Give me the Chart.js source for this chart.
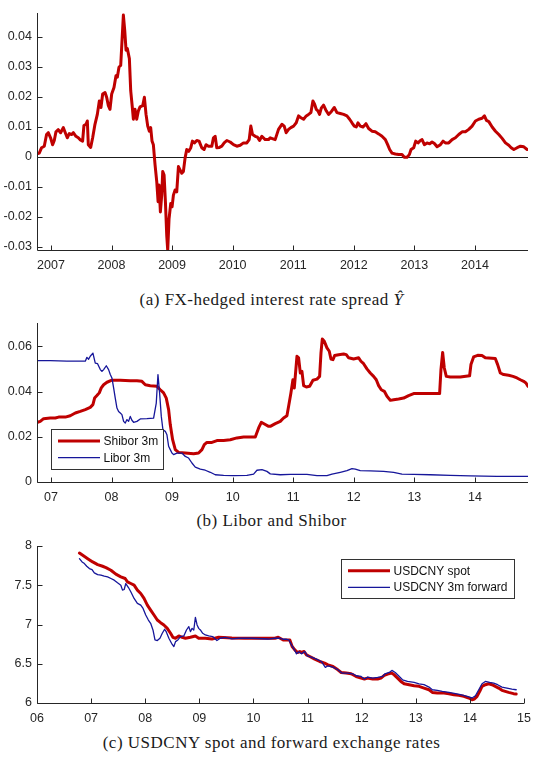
<!DOCTYPE html>
<html><head><meta charset="utf-8">
<script src="https://cdn.jsdelivr.net/npm/chart.js@4/dist/chart.umd.min.js"></script>
<style>
html,body{margin:0;padding:0;background:#fff}
body{width:539px;height:760px;position:relative;overflow:hidden}
canvas{position:absolute;left:0}
.cap{position:absolute;left:2px;width:539px;text-align:center;font-family:"Liberation Serif","Times New Roman",serif;font-size:17px;line-height:16px;letter-spacing:0.5px;color:#1a1a1a;white-space:nowrap}
</style></head><body>
<canvas id="ca" width="539" height="280" style="top:0px"></canvas>
<div class="cap" style="top:292px">(a) FX-hedged interest rate spread <i>Ŷ</i></div>
<canvas id="cb" width="539" height="210" style="top:300px"></canvas>
<div class="cap" style="top:513px">(b) Libor and Shibor</div>
<canvas id="cc" width="539" height="200" style="top:525px"></canvas>
<div class="cap" style="top:735px">(c) USDCNY spot and forward exchange rates</div>
<script>
// ---------- Panel (a): FX-hedged interest rate spread ----------
const spreadYears = [
 2006.774,2006.807,2006.846,2006.890,2006.928,2006.956,2006.994,2007.028,2007.055,2007.083,
 2007.121,2007.160,2007.204,2007.237,2007.270,2007.303,2007.342,2007.369,2007.413,2007.452,
 2007.479,2007.523,2007.545,2007.579,2007.601,2007.617,2007.656,2007.689,2007.727,2007.766,
 2007.799,2007.826,2007.854,2007.893,2007.920,2007.948,2007.975,2008.003,2008.041,2008.074,
 2008.096,2008.124,2008.152,2008.174,2008.196,2008.218,2008.240,2008.262,2008.295,2008.317,
 2008.344,2008.361,2008.388,2008.416,2008.444,2008.471,2008.515,2008.543,2008.570,2008.598,
 2008.625,2008.647,2008.669,2008.691,2008.719,2008.747,2008.769,2008.785,2008.807,2008.829,
 2008.846,2008.868,2008.890,2008.912,2008.928,2008.950,2008.978,2009.000,2009.022,2009.050,
 2009.077,2009.105,2009.132,2009.160,2009.187,2009.215,2009.242,2009.275,2009.309,2009.336,
 2009.369,2009.408,2009.446,2009.490,2009.529,2009.562,2009.601,2009.656,2009.683,2009.711,
 2009.738,2009.782,2009.821,2009.860,2009.904,2009.959,2010.014,2010.069,2010.124,2010.179,
 2010.234,2010.273,2010.300,2010.328,2010.372,2010.410,2010.444,2010.482,2010.537,2010.592,
 2010.620,2010.702,2010.757,2010.813,2010.851,2010.884,2010.923,2010.961,2011.006,2011.050,
 2011.088,2011.127,2011.171,2011.215,2011.253,2011.292,2011.325,2011.353,2011.380,2011.408,
 2011.435,2011.463,2011.501,2011.545,2011.584,2011.628,2011.678,2011.722,2011.777,2011.832,
 2011.887,2011.931,2011.970,2012.008,2012.041,2012.069,2012.107,2012.152,2012.201,2012.245,
 2012.300,2012.355,2012.410,2012.466,2012.521,2012.559,2012.592,2012.631,2012.686,2012.741,
 2012.796,2012.835,2012.879,2012.917,2012.945,2012.989,2013.022,2013.061,2013.099,2013.127,
 2013.165,2013.209,2013.253,2013.292,2013.331,2013.375,2013.430,2013.474,2013.512,2013.567,
 2013.623,2013.678,2013.733,2013.788,2013.843,2013.898,2013.953,2014.008,2014.063,2014.118,
 2014.157,2014.190,2014.229,2014.284,2014.339,2014.394,2014.449,2014.504,2014.559,2014.598,
 2014.642,2014.697,2014.752,2014.807,2014.862];
const spreadValues = [
 0.0010,0.0012,0.0030,0.0035,0.0074,0.0080,0.0063,0.0040,0.0054,0.0083,
 0.0090,0.0080,0.0097,0.0080,0.0063,0.0077,0.0074,0.0080,0.0068,0.0063,
 0.0057,0.0052,0.0104,0.0108,0.0119,0.0040,0.0031,0.0063,0.0108,0.0141,
 0.0186,0.0164,0.0209,0.0214,0.0198,0.0170,0.0158,0.0209,0.0231,0.0270,
 0.0265,0.0299,0.0304,0.0388,0.0472,0.0422,0.0355,0.0360,0.0327,0.0220,
 0.0164,0.0125,0.0158,0.0125,0.0153,0.0166,0.0170,0.0198,0.0141,0.0102,
 0.0085,0.0097,0.0052,0.0040,-0.0027,-0.0083,-0.0150,-0.0094,-0.0184,-0.0128,
 -0.0049,-0.0061,-0.0150,-0.0263,-0.0311,-0.0207,-0.0156,-0.0167,-0.0128,-0.0111,
 -0.0117,-0.0033,-0.0044,-0.0055,-0.0049,-0.0004,0.0024,0.0018,0.0030,0.0052,
 0.0046,0.0054,0.0052,0.0030,0.0024,0.0040,0.0035,0.0035,0.0063,0.0068,
 0.0030,0.0031,0.0035,0.0046,0.0054,0.0049,0.0040,0.0035,0.0038,0.0046,
 0.0046,0.0057,0.0102,0.0074,0.0068,0.0065,0.0054,0.0068,0.0057,0.0057,
 0.0063,0.0057,0.0091,0.0108,0.0102,0.0080,0.0091,0.0097,0.0102,0.0113,
 0.0136,0.0130,0.0125,0.0136,0.0141,0.0147,0.0186,0.0175,0.0158,0.0153,
 0.0141,0.0162,0.0172,0.0153,0.0141,0.0150,0.0164,0.0147,0.0144,0.0141,
 0.0136,0.0125,0.0113,0.0102,0.0099,0.0113,0.0102,0.0099,0.0110,0.0094,
 0.0085,0.0083,0.0076,0.0068,0.0057,0.0040,0.0024,0.0012,0.0009,0.0007,
 0.0007,-0.0002,-0.0002,0.0007,0.0024,0.0030,0.0052,0.0046,0.0054,0.0057,
 0.0040,0.0046,0.0043,0.0049,0.0044,0.0033,0.0040,0.0052,0.0046,0.0046,
 0.0057,0.0063,0.0074,0.0083,0.0083,0.0091,0.0102,0.0119,0.0125,0.0128,
 0.0136,0.0121,0.0117,0.0099,0.0085,0.0074,0.0061,0.0046,0.0038,0.0030,
 0.0024,0.0030,0.0035,0.0033,0.0024];
const spreadTickYears = [2007,2008,2009,2010,2011,2012,2013,2014];
const spreadTickLabels = ['2007','2008','2009','2010','2011','2012','2013','2014'];
const spreadYTicks = [-0.03,-0.02,-0.01,0,0.01,0.02,0.03,0.04];
const spreadYLabels = ['-0.03','-0.02','-0.01','0','0.01','0.02','0.03','0.04'];

// ---------- Panel (b): Libor and Shibor ----------
const shiborYears = [
 2006.780,2006.824,2006.879,2006.989,2007.072,2007.127,2007.182,2007.237,2007.319,2007.402,
 2007.484,2007.567,2007.649,2007.693,2007.721,2007.759,2007.798,2007.831,2007.870,2007.925,
 2008.007,2008.145,2008.310,2008.420,2008.502,2008.558,2008.640,2008.750,2008.805,2008.860,
 2008.904,2008.943,2008.970,2009.009,2009.053,2009.108,2009.218,2009.356,2009.438,2009.493,
 2009.532,2009.575,2009.658,2009.741,2009.851,2009.961,2010.071,2010.181,2010.374,2010.429,
 2010.473,2010.539,2010.594,2010.621,2010.704,2010.786,2010.841,2010.896,2010.924,2010.962,
 2010.995,2011.018,2011.062,2011.089,2011.117,2011.144,2011.172,2011.216,2011.271,2011.326,
 2011.392,2011.436,2011.458,2011.480,2011.513,2011.557,2011.595,2011.623,2011.656,2011.684,
 2011.750,2011.832,2011.876,2011.915,2011.997,2012.080,2012.118,2012.162,2012.217,2012.272,
 2012.327,2012.371,2012.410,2012.454,2012.504,2012.548,2012.603,2012.658,2012.740,2012.823,
 2012.905,2012.988,2013.098,2013.263,2013.417,2013.439,2013.467,2013.494,2013.527,2013.593,
 2013.758,2013.912,2013.934,2013.978,2014.045,2014.116,2014.171,2014.336,2014.375,2014.419,
 2014.474,2014.556,2014.628,2014.694,2014.749,2014.804,2014.842,2014.875];
const shiborValues = [
 0.0264,0.0268,0.0280,0.0283,0.0283,0.0287,0.0287,0.0287,0.0293,0.0305,
 0.0312,0.0320,0.0330,0.0342,0.0371,0.0382,0.0394,0.0416,0.0430,0.0441,
 0.0450,0.0450,0.0448,0.0448,0.0445,0.0430,0.0426,0.0423,0.0408,0.0394,
 0.0371,0.0320,0.0254,0.0187,0.0143,0.0131,0.0128,0.0125,0.0128,0.0143,
 0.0165,0.0175,0.0175,0.0183,0.0184,0.0187,0.0195,0.0199,0.0199,0.0239,
 0.0264,0.0254,0.0246,0.0246,0.0258,0.0268,0.0283,0.0293,0.0335,0.0394,
 0.0452,0.0416,0.0556,0.0549,0.0482,0.0489,0.0426,0.0420,0.0423,0.0450,
 0.0455,0.0467,0.0570,0.0632,0.0622,0.0593,0.0578,0.0544,0.0541,0.0559,
 0.0563,0.0566,0.0563,0.0549,0.0544,0.0549,0.0534,0.0523,0.0500,0.0482,
 0.0467,0.0452,0.0426,0.0408,0.0401,0.0379,0.0361,0.0364,0.0367,0.0371,
 0.0382,0.0391,0.0391,0.0391,0.0391,0.0497,0.0573,0.0504,0.0467,0.0464,
 0.0464,0.0470,0.0519,0.0553,0.0560,0.0559,0.0549,0.0546,0.0519,0.0482,
 0.0475,0.0472,0.0467,0.0460,0.0452,0.0445,0.0438,0.0423];
const liborYears = [
 2006.780,2006.989,2007.264,2007.567,2007.594,2007.622,2007.649,2007.693,2007.732,2007.770,
 2007.815,2007.842,2007.870,2007.914,2007.952,2007.980,2008.007,2008.035,2008.062,2008.090,
 2008.117,2008.145,2008.172,2008.200,2008.227,2008.255,2008.282,2008.310,2008.337,2008.365,
 2008.420,2008.475,2008.585,2008.695,2008.739,2008.767,2008.794,2008.822,2008.849,2008.888,
 2008.915,2008.943,2008.970,2008.998,2009.025,2009.080,2009.163,2009.218,2009.273,2009.328,
 2009.383,2009.466,2009.548,2009.631,2009.713,2009.851,2010.016,2010.236,2010.346,2010.401,
 2010.484,2010.566,2010.621,2010.786,2010.951,2011.227,2011.392,2011.557,2011.640,2011.777,
 2011.887,2011.970,2012.025,2012.107,2012.272,2012.492,2012.658,2012.795,2012.988,2013.263,
 2013.593,2013.923,2014.364,2014.875];
const liborValues = [
 0.0537,0.0537,0.0534,0.0534,0.0551,0.0543,0.0556,0.0570,0.0526,0.0523,
 0.0497,0.0489,0.0497,0.0514,0.0497,0.0475,0.0460,0.0416,0.0371,0.0327,
 0.0312,0.0305,0.0298,0.0268,0.0261,0.0276,0.0268,0.0290,0.0273,0.0264,
 0.0268,0.0279,0.0280,0.0282,0.0349,0.0475,0.0394,0.0290,0.0231,0.0224,
 0.0209,0.0158,0.0143,0.0128,0.0121,0.0128,0.0128,0.0113,0.0106,0.0084,
 0.0066,0.0057,0.0052,0.0043,0.0032,0.0029,0.0028,0.0029,0.0035,0.0052,
 0.0055,0.0047,0.0036,0.0032,0.0034,0.0034,0.0028,0.0028,0.0035,0.0043,
 0.0050,0.0059,0.0057,0.0050,0.0049,0.0047,0.0043,0.0035,0.0034,0.0032,
 0.0029,0.0027,0.0025,0.0025];
const rateTickYears = [2007,2008,2009,2010,2011,2012,2013,2014];
const rateTickLabels = ['07','08','09','10','11','12','13','14'];
const rateYTicks = [0,0.02,0.04,0.06];
const rateYLabels = ['0','0.02','0.04','0.06'];

// ---------- Panel (c): USDCNY spot and 3m forward ----------
const spotYears = [
 2006.784,2006.845,2006.937,2007.029,2007.121,2007.212,2007.274,2007.366,2007.457,2007.549,
 2007.629,2007.672,2007.733,2007.794,2007.855,2007.917,2007.978,2008.039,2008.100,2008.162,
 2008.223,2008.284,2008.345,2008.407,2008.468,2008.511,2008.560,2008.621,2008.682,2008.743,
 2008.835,2008.927,2008.988,2009.111,2009.233,2009.356,2009.601,2009.846,2010.274,2010.397,
 2010.458,2010.550,2010.611,2010.672,2010.715,2010.764,2010.813,2010.856,2010.887,2010.936,
 2010.979,2011.040,2011.132,2011.224,2011.315,2011.377,2011.469,2011.560,2011.621,2011.713,
 2011.805,2011.897,2011.989,2012.050,2012.111,2012.203,2012.295,2012.356,2012.417,2012.479,
 2012.552,2012.601,2012.663,2012.724,2012.785,2012.877,2012.969,2013.060,2013.152,2013.244,
 2013.305,2013.397,2013.520,2013.612,2013.704,2013.795,2013.887,2013.979,2014.040,2014.083,
 2014.132,2014.181,2014.224,2014.285,2014.347,2014.408,2014.469,2014.530,2014.592,2014.653,
 2014.714,2014.806,2014.855];
const spotValues = [
 7.911,7.882,7.839,7.797,7.763,7.742,7.725,7.691,7.641,7.607,
 7.586,7.543,7.522,7.501,7.438,7.395,7.332,7.247,7.184,7.121,
 7.057,7.023,6.994,6.951,6.888,6.837,6.825,6.854,6.837,6.825,
 6.837,6.854,6.825,6.825,6.816,6.837,6.829,6.825,6.825,6.825,
 6.837,6.803,6.803,6.803,6.719,6.677,6.643,6.656,6.643,6.656,
 6.613,6.592,6.558,6.529,6.507,6.486,6.465,6.423,6.389,6.381,
 6.372,6.338,6.317,6.305,6.317,6.305,6.305,6.317,6.351,6.368,
 6.381,6.359,6.317,6.275,6.245,6.233,6.220,6.212,6.190,6.169,
 6.135,6.127,6.127,6.119,6.106,6.097,6.085,6.064,6.042,6.051,
 6.085,6.148,6.212,6.233,6.245,6.233,6.212,6.190,6.161,6.148,
 6.135,6.119,6.114];
const forwardYears = [
 2006.784,2006.833,2006.876,2006.919,2006.968,2007.017,2007.059,2007.121,2007.182,2007.243,
 2007.305,2007.366,2007.427,2007.488,2007.549,2007.580,2007.611,2007.641,2007.690,2007.733,
 2007.794,2007.855,2007.917,2007.960,2008.009,2008.058,2008.100,2008.143,2008.180,2008.223,
 2008.272,2008.315,2008.358,2008.388,2008.437,2008.486,2008.529,2008.560,2008.603,2008.652,
 2008.713,2008.762,2008.805,2008.835,2008.866,2008.897,2008.927,2008.958,2008.988,2009.019,
 2009.062,2009.111,2009.172,2009.246,2009.325,2009.386,2009.478,2009.601,2009.723,2009.968,
 2010.274,2010.397,2010.489,2010.550,2010.611,2010.654,2010.703,2010.764,2010.795,2010.838,
 2010.887,2010.948,2010.997,2011.070,2011.162,2011.254,2011.328,2011.377,2011.469,2011.560,
 2011.634,2011.744,2011.836,2011.897,2011.989,2012.050,2012.111,2012.203,2012.295,2012.387,
 2012.430,2012.509,2012.558,2012.620,2012.681,2012.754,2012.846,2012.969,2013.060,2013.152,
 2013.244,2013.305,2013.397,2013.489,2013.612,2013.734,2013.826,2013.948,2014.040,2014.101,
 2014.163,2014.224,2014.285,2014.365,2014.439,2014.512,2014.592,2014.683,2014.775,2014.855];
const forwardValues = [
 7.839,7.797,7.776,7.742,7.712,7.700,7.658,7.636,7.628,7.615,
 7.607,7.586,7.565,7.531,7.501,7.438,7.446,7.522,7.471,7.417,
 7.332,7.269,7.247,7.205,7.121,7.057,7.015,6.930,6.803,6.795,
 6.825,6.888,6.939,6.909,6.825,6.761,6.719,6.782,6.803,6.846,
 6.854,6.930,6.973,6.909,6.951,6.930,7.091,6.994,6.951,6.930,
 6.888,6.867,6.854,6.846,6.795,6.825,6.837,6.816,6.825,6.825,
 6.815,6.825,6.825,6.812,6.812,6.803,6.740,6.668,6.626,6.652,
 6.626,6.656,6.601,6.584,6.558,6.529,6.453,6.474,6.457,6.423,
 6.381,6.381,6.372,6.347,6.338,6.305,6.330,6.317,6.326,6.338,
 6.372,6.389,6.415,6.389,6.347,6.296,6.275,6.262,6.245,6.233,
 6.203,6.169,6.161,6.148,6.135,6.119,6.106,6.085,6.064,6.093,
 6.169,6.245,6.275,6.262,6.254,6.233,6.203,6.190,6.178,6.169];
const fxTickYears = [2006,2007,2008,2009,2010,2011,2012,2013,2014,2015];
const fxTickLabels = ['06','07','08','09','10','11','12','13','14','15'];
const fxYTicks = [6,6.5,7,7.5,8];
const fxYLabels = ['6','6.5','7','7.5','8'];

// ---------- styling ----------
const RED = '#bf0000', BLUE = '#16169a', AX = '#262626';
const TICK_FONT = {family: '"Liberation Sans", Arial, Helvetica, sans-serif', size: 12.5};
const LEG_FONT = '12px "Liberation Sans", Arial, Helvetica, sans-serif';

const toXY = (xs, ys) => xs.map((x, i) => ({x, y: ys[i]}));

const matlabAxes = {
  id: 'matlabAxes',
  beforeDatasetsDraw(chart, args, opts) {
    if (!opts.zeroLine) return;
    const {ctx, chartArea: a, scales: {y}} = chart;
    const py = Math.round(y.getPixelForValue(0)) + 0.5;
    ctx.save();
    ctx.strokeStyle = '#1a1a1a'; ctx.lineWidth = 1;
    ctx.beginPath(); ctx.moveTo(a.left, py); ctx.lineTo(a.right, py); ctx.stroke();
    ctx.restore();
  },
  afterDraw(chart, args, opts) {
    const {ctx, chartArea: a, scales: {x, y}} = chart;
    ctx.save();
    ctx.strokeStyle = AX; ctx.lineWidth = 1;
    const L = Math.round(a.left) + 0.5, B = Math.round(a.bottom) + 0.5;
    ctx.beginPath();
    ctx.moveTo(L, a.top); ctx.lineTo(L, B); ctx.lineTo(a.right, B);
    x.ticks.forEach(t => { const px = Math.round(x.getPixelForValue(t.value)) + 0.5; ctx.moveTo(px, B); ctx.lineTo(px, B - 5); });
    y.ticks.forEach(t => { const py = Math.round(y.getPixelForValue(t.value)) + 0.5; ctx.moveTo(L, py); ctx.lineTo(L + 5, py); });
    ctx.stroke();
    const lg = opts.legend;
    if (lg) {
      ctx.fillStyle = '#fff';
      ctx.fillRect(lg.x, lg.y, lg.w, lg.h);
      ctx.strokeStyle = '#333'; ctx.lineWidth = 1;
      ctx.strokeRect(lg.x + 0.5, lg.y + 0.5, lg.w, lg.h);
      ctx.font = LEG_FONT; ctx.textBaseline = 'middle'; ctx.fillStyle = '#111';
      chart.data.datasets.forEach((ds, i) => {
        const cy = lg.y + lg.first + i * lg.row;
        ctx.strokeStyle = ds.borderColor; ctx.lineWidth = ds.borderWidth;
        ctx.beginPath(); ctx.moveTo(lg.x + 7, cy); ctx.lineTo(lg.x + 7 + lg.len, cy); ctx.stroke();
        ctx.fillText(ds.label, lg.x + 7 + lg.len + 3.5, cy + 0.5);
      });
    }
    ctx.restore();
  }
};

function makeChart(id, cfg) {
  const H = document.getElementById(id).height;
  return new Chart(document.getElementById(id), {
    type: 'line',
    data: {datasets: cfg.datasets},
    plugins: [matlabAxes],
    options: {
      responsive: false, animation: false, devicePixelRatio: 1,
      layout: {padding: {left: 0, right: 11, top: cfg.top, bottom: 0}},
      elements: {point: {radius: 0}, line: {tension: 0, borderJoinStyle: 'round', borderCapStyle: 'round'}},
      plugins: {legend: {display: false}, tooltip: {enabled: false}, title: {display: false},
        matlabAxes: {zeroLine: !!cfg.zeroLine, legend: cfg.legend || null}},
      scales: {
        x: {type: 'linear', min: cfg.xmin, max: cfg.xmax,
          grid: {display: false, drawTicks: false}, border: {display: false},
          afterBuildTicks: s => { s.ticks = cfg.xTicks.map(v => ({value: v})); },
          ticks: {font: TICK_FONT, color: AX, padding: 8, maxRotation: 0, autoSkip: false,
            callback: (v, i) => cfg.xLabels[i]},
          afterFit: s => { s.height = H - cfg.bottom; }},
        y: {type: 'linear', min: cfg.ymin, max: cfg.ymax,
          grid: {display: false, drawTicks: false}, border: {display: false},
          afterBuildTicks: s => { s.ticks = cfg.yTicks.map(v => ({value: v})); },
          ticks: {font: TICK_FONT, color: AX, padding: 5, autoSkip: false,
            callback: (v, i) => cfg.yLabels[i]},
          afterFit: s => { s.width = 37; }}
      }
    }
  });
}

makeChart('ca', {
  top: 13, bottom: 250, xmin: 2006.77, xmax: 2014.876, ymin: -0.0311, ymax: 0.0479,
  xTicks: spreadTickYears, xLabels: spreadTickLabels, yTicks: spreadYTicks, yLabels: spreadYLabels,
  zeroLine: true,
  datasets: [{label: 'Spread', data: toXY(spreadYears, spreadValues), borderColor: RED, borderWidth: 3}]
});

makeChart('cb', {
  top: 23, bottom: 182, xmin: 2006.77, xmax: 2014.876, ymin: 0, ymax: 0.0703,
  xTicks: rateTickYears, xLabels: rateTickLabels, yTicks: rateYTicks, yLabels: rateYLabels,
  legend: {x: 51, y: 129, w: 112, h: 40, first: 12, row: 16.7, len: 42},
  datasets: [
    {label: 'Shibor 3m', data: toXY(shiborYears, shiborValues), borderColor: RED, borderWidth: 3, order: 1},
    {label: 'Libor 3m', data: toXY(liborYears, liborValues), borderColor: BLUE, borderWidth: 1.3, order: 0}
  ]
});

makeChart('cc', {
  top: 21, bottom: 178, xmin: 2006, xmax: 2015, ymin: 6, ymax: 8,
  xTicks: fxTickYears, xLabels: fxTickLabels, yTicks: fxYTicks, yLabels: fxYLabels,
  legend: {x: 341, y: 34, w: 173, h: 39, first: 11.7, row: 16.6, len: 42},
  datasets: [
    {label: 'USDCNY spot', data: toXY(spotYears, spotValues), borderColor: RED, borderWidth: 3, order: 1},
    {label: 'USDCNY 3m forward', data: toXY(forwardYears, forwardValues), borderColor: BLUE, borderWidth: 1.3, order: 0}
  ]
});
</script>
</body></html>
